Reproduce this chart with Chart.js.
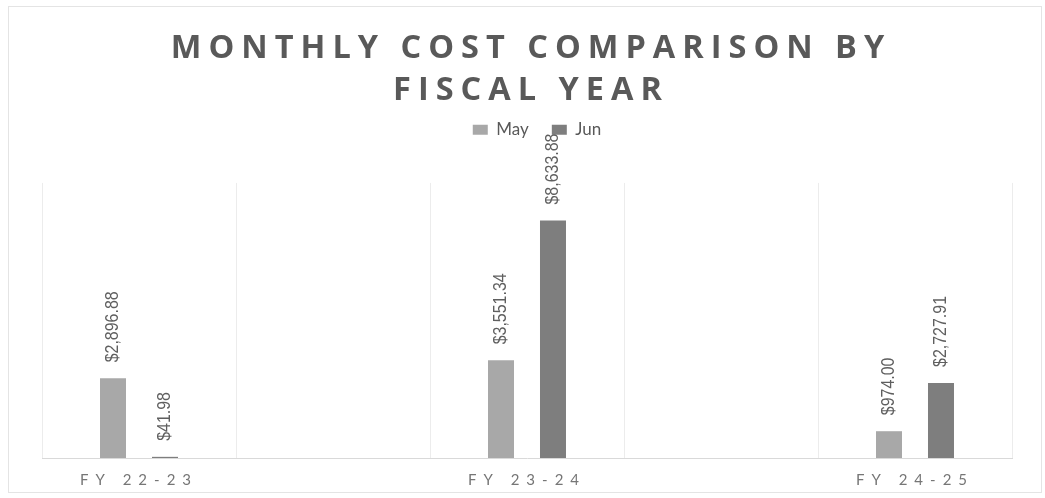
<!DOCTYPE html>
<html lang="en">
<head>
    <meta charset="UTF-8">
    <title>Monthly Cost Comparison by Fiscal Year</title>
    <script src="https://cdn.jsdelivr.net/npm/chart.js"></script>
    <style>
        body {
            margin: 0;
            background: white;
        }
        #costChart {
            display: block;
        }
    </style>
</head>
<body>
    <canvas id="costChart" width="1045" height="498"></canvas>

    <script>
        // data (blank categories are the empty columns)
        const categories = ['FY 22-23', '', 'FY 23-24', '', 'FY 24-25'];
        const mayCost = [2896.88, null, 3551.34, null, 974.00];
        const junCost = [41.98, null, 8633.88, null, 2727.91];
        const yMax = 10000;

        function money(v) {
            return '$' + v.toLocaleString('en-US', { minimumFractionDigits: 2, maximumFractionDigits: 2 });
        }

        // canvas has no letter-spacing option in Chart.js, so wrap a few draw calls
        function wrapDraw(obj, method, spacing, dx) {
            if (!obj || obj['_wrapped_' + method]) return;
            const orig = obj[method];
            obj[method] = function () {
                const ctx = this.ctx;
                ctx.save();
                ctx.letterSpacing = spacing;
                ctx.translate(dx, 0);
                orig.apply(this, arguments);
                ctx.restore();
            };
            obj['_wrapped_' + method] = true;
        }

        const spacingPlugin = {
            id: 'spacing',
            beforeDraw(chart) {
                wrapDraw(chart.titleBlock, 'draw', '7px', 4);
                wrapDraw(chart.legend, 'draw', '0px', 10);
                wrapDraw(chart.scales.x, 'drawLabels', '7px', 0);

                // faint frame round the chart
                const ctx = chart.ctx;
                ctx.save();
                ctx.strokeStyle = '#e4e4e4';
                ctx.lineWidth = 1;
                ctx.strokeRect(8.5, 6.5, chart.width - 12, chart.height - 12);
                ctx.restore();
            }
        };

        // rotated value labels above each bar (squeezed to look like a narrow face)
        const valueLabels = {
            id: 'valueLabels',
            afterDatasetsDraw(chart) {
                const ctx = chart.ctx;
                ctx.save();
                ctx.font = "19px 'Liberation Sans', Arial, sans-serif";
                ctx.fillStyle = '#5f5f5f';
                ctx.textAlign = 'left';
                ctx.textBaseline = 'middle';
                chart.data.datasets.forEach((ds, i) => {
                    chart.getDatasetMeta(i).data.forEach((bar, j) => {
                        const v = ds.data[j];
                        if (v === null || v === undefined) return;
                        ctx.save();
                        ctx.translate(bar.x, bar.y - 16);
                        ctx.rotate(-Math.PI / 2);
                        ctx.scale(0.84, 1);
                        ctx.fillText(money(v), 0, 0);
                        ctx.restore();
                    });
                });
                ctx.restore();
            }
        };

        const ctx = document.getElementById('costChart').getContext('2d');
        new Chart(ctx, {
            type: 'bar',
            data: {
                labels: categories,
                datasets: [
                    {
                        label: 'May',
                        data: mayCost,
                        backgroundColor: '#a8a8a8',
                        categoryPercentage: 0.536,
                        barPercentage: 0.5
                    },
                    {
                        label: 'Jun',
                        data: junCost,
                        backgroundColor: '#7e7e7e',
                        categoryPercentage: 0.536,
                        barPercentage: 0.5
                    }
                ]
            },
            options: {
                responsive: false,
                animation: false,
                layout: {
                    padding: { left: 42, right: 33, top: 0, bottom: -4 }
                },
                scales: {
                    x: {
                        grid: { color: '#ececec', drawTicks: false },
                        border: { color: '#d9d9d9' },
                        ticks: {
                            color: '#767676',
                            padding: 13,
                            font: { family: 'Lato', size: 15 }
                        }
                    },
                    y: {
                        display: false,
                        min: 0,
                        max: yMax
                    }
                },
                plugins: {
                    title: {
                        display: true,
                        text: ['MONTHLY COST COMPARISON BY', 'FISCAL YEAR'],
                        color: '#595959',
                        font: { family: "'Open Sans'", size: 32.5, weight: 'bold', lineHeight: 1.29 },
                        padding: { top: 28, bottom: -13.5 }
                    },
                    legend: {
                        position: 'top',
                        labels: {
                            color: '#595959',
                            boxWidth: 15,
                            boxHeight: 10,
                            padding: 23,
                            font: { family: 'Lato', size: 17 }
                        }
                    },
                    // empty subtitle used as spacer between legend and plot
                    subtitle: {
                        display: true,
                        text: '',
                        weight: 500,
                        font: { size: 1, lineHeight: 1 },
                        padding: { top: 33.6, bottom: 0 }
                    },
                    tooltip: { enabled: false }
                }
            },
            plugins: [spacingPlugin, valueLabels]
        });
    </script>
</body>
</html>
